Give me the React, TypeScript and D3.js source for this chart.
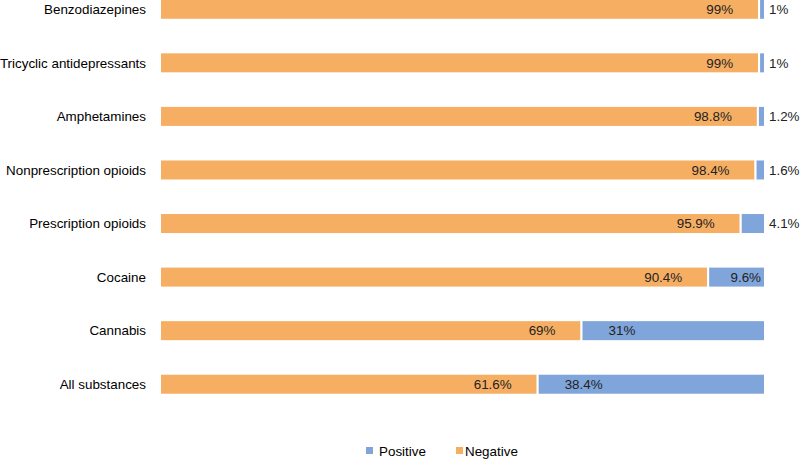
import React from "react";
import * as d3 from "d3";

const categories = [
  "Benzodiazepines",
  "Tricyclic antidepressants",
  "Amphetamines",
  "Nonprescription opioids",
  "Prescription opioids",
  "Cocaine",
  "Cannabis",
  "All substances",
];
const negative = [99, 99, 98.8, 98.4, 95.9, 90.4, 69, 61.6];
const positive = [1, 1, 1.2, 1.6, 4.1, 9.6, 31, 38.4];
const negLabels = ["99%", "99%", "98.8%", "98.4%", "95.9%", "90.4%", "69%", "61.6%"];
const posLabels = ["1%", "1%", "1.2%", "1.6%", "4.1%", "9.6%", "31%", "38.4%"];
const axisDomain = [-2.2, 100];

const W = 800;
const H = 459;
const ORANGE = "#F6AE63";
const BLUE = "#7FA5DA";
const FONT = "'Liberation Sans', Arial, sans-serif";
const FS = 13.4;

export default function App() {
  const x = d3.scaleLinear().domain(axisDomain).range([160, 765]);
  const y = d3.scaleBand().domain(categories).range([-17.5, 411]).paddingInner(0.6).paddingOuter(0.3);
  const bh = 21;
  return (
    <svg width={W} height={H} style={{ position: "absolute", left: 0, top: 0 }}>
      <rect width={W} height={H} fill="#fff" />
      {categories.map((c, i) => {
        const cy = (y(c) as number) + y.bandwidth() / 2;
        const top = cy - bh / 2;
        const x0 = x(axisDomain[0]);
        const x1 = x(negative[i]);
        const x2 = x(negative[i] + positive[i]);
        const pw = x2 - x1;
        let px: number, anchor: string;
        if (pw > 100) {
          px = x1 + 27;
          anchor = "start";
        } else if (pw > 40) {
          px = x2 - 4;
          anchor = "end";
        } else {
          px = x2 + 4;
          anchor = "start";
        }
        return (
          <g key={c}>
            <text x={146} y={cy} dy="0.35em" textAnchor="end" fontFamily={FONT} fontSize={FS} fill="#000">
              {c}
            </text>
            <rect x={x0} y={top} width={x1 - x0} height={bh} fill={ORANGE} stroke="#fff" strokeWidth={2} />
            <rect x={x1} y={top} width={pw} height={bh} fill={BLUE} stroke="#fff" strokeWidth={2} />
            <text x={x1 - 26} y={cy} dy="0.35em" textAnchor="end" fontFamily={FONT} fontSize={FS} fill="#222">
              {negLabels[i]}
            </text>
            <text x={px} y={cy} dy="0.35em" textAnchor={anchor} fontFamily={FONT} fontSize={FS} fill="#222">
              {posLabels[i]}
            </text>
          </g>
        );
      })}
      <g fontFamily={FONT} fontSize={FS} fill="#000">
        <rect x={366} y={447} width={7} height={7} fill={BLUE} />
        <text x={379} y={451} dy="0.35em">Positive</text>
        <rect x={456} y={447} width={7} height={7} fill={ORANGE} />
        <text x={465} y={451} dy="0.35em">Negative</text>
      </g>
    </svg>
  );
}
